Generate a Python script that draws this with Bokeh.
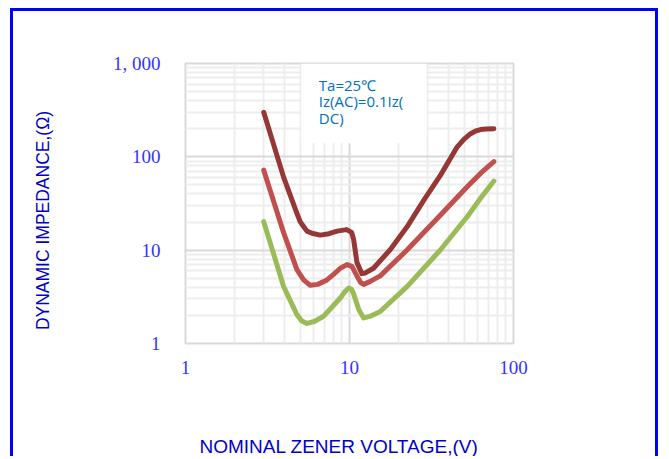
from bokeh.plotting import figure
from bokeh.models import FixedTicker, BoxAnnotation, Label
from bokeh.embed import file_html
from bokeh.resources import INLINE

# ---- data ----
x_top = [3.0, 3.96, 4.78, 5.0, 5.25, 5.5, 5.9, 6.63, 7.5, 8.4, 9.6, 10.3, 10.6, 11.1, 11.9, 12.5, 14.0, 17.7, 22.5, 28.4, 35.9, 45.4, 50.0, 54.7, 58.5, 62.9, 68.0, 75.9]
y_top = [300, 61, 24.8, 20.2, 17.9, 16.0, 15.2, 14.5, 15.0, 16.0, 16.6, 15.5, 13.0, 7.4, 5.6, 5.7, 6.4, 10.1, 17.9, 34.4, 63.7, 128, 155, 177, 188, 196, 199, 200]

x_mid = [3.0, 3.96, 4.78, 5.25, 5.76, 6.4, 7.29, 8.0, 8.79, 9.65, 10.35, 11.1, 11.7, 12.2, 13.3, 15.4, 22.5, 35.9, 52.2, 62.9, 75.9]
y_mid = [72, 15.5, 6.2, 4.8, 4.2, 4.3, 4.8, 5.5, 6.4, 7.0, 6.7, 5.3, 4.5, 4.3, 4.6, 5.3, 10.1, 23.8, 47.7, 66.4, 89]

x_low = [3.0, 3.96, 4.78, 5.1, 5.5, 6.1, 6.95, 8.79, 9.4, 9.88, 10.3, 10.6, 11.4, 12.2, 13.3, 15.4, 22.5, 35.9, 52.2, 62.9, 75.9]
y_low = [20.2, 4.1, 2.04, 1.75, 1.64, 1.72, 1.96, 3.07, 3.6, 3.93, 3.8, 3.4, 2.3, 1.88, 1.95, 2.2, 4.09, 10.1, 22.8, 35.9, 55]

x_ticks = [1, 10, 100]
x_minor = [2, 3, 4, 5, 6, 7, 8, 9, 20, 30, 40, 50, 60, 70, 80, 90]
y_ticks = [1, 10, 100, 1000]
y_minor = [2, 3, 4, 5, 6, 7, 8, 9, 20, 30, 40, 50, 60, 70, 80, 90,
           200, 300, 400, 500, 600, 700, 800, 900]
y_tick_labels = {1: "1", 10: "10", 100: "100", 1000: "1, 000"}
x_tick_labels = {1: "1", 10: "10", 100: "100"}

# trailing no-break spaces nudge the centred titles to where the reference has them
x_title = "NOMINAL ZENER VOLTAGE,(V)" + "\u00a0" * 4
y_title = "DYNAMIC IMPEDANCE,(\u03a9)" + "\u00a0" * 7
note_text = "Ta=25\u2103\nIz(AC)=0.1Iz(\nDC)"

p = figure(width=648, height=448, x_axis_type="log", y_axis_type="log",
           x_range=(1, 100), y_range=(1, 1000),
           output_backend="svg", toolbar_location=None,
           min_border_left=172, min_border_right=148,
           min_border_top=52, min_border_bottom=115,
           styles={"border-top": "3px solid #0000FF",
                   "border-left": "3px solid #0000FF",
                   "border-right": "3px solid #0000FF",
                   "margin-left": "10px", "margin-top": "8px"})

p.background_fill_color = "white"
p.border_fill_color = "white"
p.outline_line_color = "#D9D9D9"
p.outline_line_width = 2

p.xaxis.ticker = FixedTicker(ticks=x_ticks, minor_ticks=x_minor)
p.yaxis.ticker = FixedTicker(ticks=y_ticks, minor_ticks=y_minor)
p.xaxis.major_label_overrides = x_tick_labels
p.yaxis.major_label_overrides = y_tick_labels

for ax in (p.xaxis, p.yaxis):
    ax.axis_line_color = None
    ax.major_tick_line_color = None
    ax.minor_tick_line_color = None
    ax.major_label_text_font = "Liberation Serif"
    ax.major_label_text_font_size = "19px"
    ax.major_label_text_color = "#3333FF"
    ax.axis_label_text_font = "Liberation Sans"
    ax.axis_label_text_font_style = "normal"
    ax.axis_label_text_color = "#0000CC"

p.xaxis.axis_label = x_title
p.yaxis.axis_label = y_title
p.xaxis.axis_label_text_font_size = "19px"
p.yaxis.axis_label_text_font_size = "17.5px"
p.xaxis.major_label_standoff = 11
p.xaxis.axis_label_standoff = 59
p.yaxis.major_label_standoff = 19
p.yaxis.axis_label_standoff = 57

for g in (p.xgrid, p.ygrid):
    g.grid_line_color = "#D9D9D9"
    g.grid_line_width = 2
    g.minor_grid_line_color = "#EDEDED"
    g.minor_grid_line_width = 2

p.line(x_top, y_top, line_color="#953735", line_width=5, line_join="round", line_cap="round")
p.line(x_mid, y_mid, line_color="#C0504D", line_width=5, line_join="round", line_cap="round")
p.line(x_low, y_low, line_color="#9BBB59", line_width=5, line_join="round", line_cap="round")

box = BoxAnnotation(left=5.08, right=29.5, bottom=140, top=1000,
                    fill_color="white", fill_alpha=1.0, line_color=None)
p.add_layout(box)

note = Label(x=6.5, y=760, text=note_text, text_font="Open Sans",
             text_font_size="15px", text_color="#0070C0",
             text_baseline="top", text_align="left", text_line_height=0.84)
p.add_layout(note)

open("out.html", "w").write(file_html(p, INLINE))
